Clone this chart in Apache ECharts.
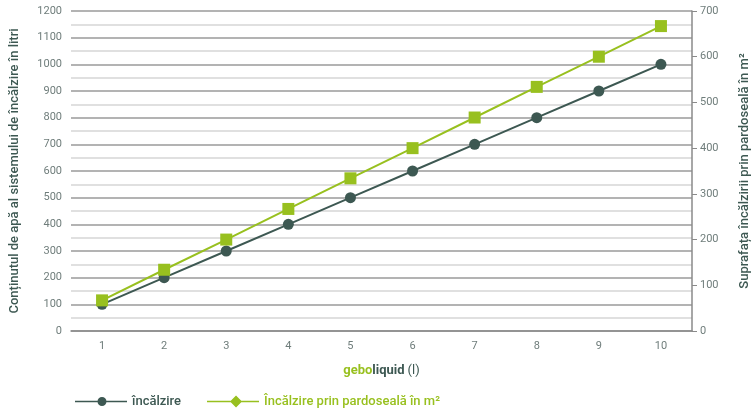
<!DOCTYPE html>
<html>
<head>
<meta charset="utf-8">
<script src="https://cdn.jsdelivr.net/npm/echarts@6/dist/echarts.min.js"></script>
<style>html,body{margin:0;padding:0;background:#fff}#c{width:753px;height:411px}</style>
</head>
<body>
<div id="c"></div>
<script>
const categories = ['1','2','3','4','5','6','7','8','9','10'];
const heatingLitres = [100, 200, 300, 400, 500, 600, 700, 800, 900, 1000];
const floorArea = [67, 134, 200, 267, 334, 400, 467, 534, 600, 667];
const seriesNames = ['încălzire', 'Încălzire prin pardoseală în m²'];
const leftAxisName = 'Conținutul de apă al sistemului de încălzire în litri';
const rightAxisName = 'Suprafața încălzirii prin pardoseală în m²';

const DARK = '#3d5852';
const GREEN = '#98c01f';
const TXT = '#6f7d7b';
const FONT = 'Roboto, "Noto Sans", sans-serif';

const chart = echarts.init(document.getElementById('c'));
chart.setOption({
  animation: false,
  textStyle: { fontFamily: FONT },
  grid: { left: 71, right: 61, top: 11, bottom: 80, containLabel: false, outerBoundsMode: 'none' },
  legend: {
    left: 70, top: 390, itemWidth: 52, itemHeight: 12, itemGap: 26,
    textStyle: { fontSize: 13, fontWeight: 500, fontFamily: FONT },
    data: [
      { name: seriesNames[0], icon: 'path://M0,5.25L52,5.25L52,6.75L0,6.75Z M27,1.5 A4.5,4.5 0 1,1 26.99,1.5 Z M0,0L0,0.01L0.01,0Z M52,12L52,11.99L51.99,12Z', textStyle: { color: DARK } },
      { name: seriesNames[1], icon: 'path://M0,5.25L52,5.25L52,6.75L0,6.75Z M29,0L35,6L29,12L23,6Z', textStyle: { color: GREEN } }
    ]
  },
  xAxis: {
    type: 'category', data: categories, boundaryGap: true,
    name: '{g|gebo}{d|liquid} {n|(l)}', nameLocation: 'middle', nameGap: 33,
    nameTextStyle: {
      rich: {
        g: { color: GREEN, fontWeight: 'bold', fontSize: 13, fontFamily: FONT },
        d: { color: DARK, fontWeight: 'bold', fontSize: 13, fontFamily: FONT },
        n: { color: DARK, fontSize: 13, fontFamily: FONT }
      }
    },
    axisLine: { show: true, lineStyle: { color: '#8a8a8a', width: 1.5 } },
    axisTick: { show: false },
    axisLabel: { color: TXT, fontSize: 11, margin: 10 }
  },
  yAxis: [
    {
      type: 'value', min: 0, max: 1200, interval: 100, position: 'left',
      name: leftAxisName, nameLocation: 'middle', nameGap: 50, nameRotate: 90,
      nameTextStyle: { color: DARK, fontSize: 13, fontWeight: 500 },
      axisLine: { show: false }, axisTick: { show: false },
      axisLabel: { color: TXT, fontSize: 11, margin: 9, formatter: v => String(v) },
      splitLine: { show: true, lineStyle: { color: '#9a9a9a', width: 1.5 } },
      minorTick: { show: false, splitNumber: 2 },
      minorSplitLine: { show: true, lineStyle: { color: '#d6d6d6', width: 1.5 } }
    },
    {
      type: 'value', min: 0, max: 700, interval: 100, position: 'right',
      name: rightAxisName, nameLocation: 'middle', nameGap: 46, nameRotate: 90,
      nameTextStyle: { color: DARK, fontSize: 13, fontWeight: 500 },
      axisLine: { show: true, lineStyle: { color: '#8a8a8a', width: 1.5 } },
      axisTick: { show: true, length: 5, lineStyle: { color: '#8a8a8a', width: 1 } },
      axisLabel: { color: TXT, fontSize: 11, margin: 8, formatter: v => String(v) },
      splitLine: { show: false }
    }
  ],
  series: [
    {
      name: seriesNames[0], type: 'line', yAxisIndex: 0, data: heatingLitres,
      symbol: 'circle', symbolSize: 11,
      lineStyle: { color: DARK, width: 2 }, itemStyle: { color: DARK }
    },
    {
      name: seriesNames[1], type: 'line', yAxisIndex: 1, data: floorArea,
      symbol: 'rect', symbolSize: 12,
      lineStyle: { color: GREEN, width: 2 }, itemStyle: { color: GREEN }
    }
  ]
});
</script>
</body>
</html>
